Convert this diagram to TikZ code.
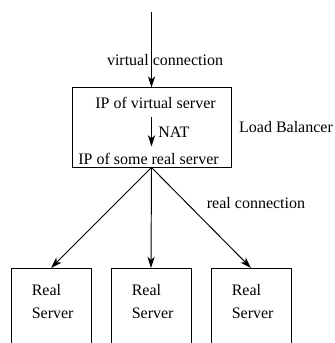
\documentclass[tikz,border=0pt]{standalone}
\usepackage{fontspec}
\setmainfont{Liberation Serif}
\usetikzlibrary{arrows.meta}

\begin{document}
\begin{tikzpicture}[x=0.625pt,y=-0.625pt,line width=0.6pt,
    every node/.style={font=\fontsize{10}{12}\selectfont,inner sep=1pt},
    flecha/.style={-{Stealth[length=7pt,width=4.5pt,inset=2pt]}},
    cajaLB/.style={draw,rectangle,minimum width=99.4pt,minimum height=49.4pt},
    cajaRS/.style={draw,rectangle,anchor=north,minimum width=50pt,minimum height=60pt},
    textoRS/.style={anchor=north west,align=left,font=\fontsize{10}{14.4}\selectfont}]
    \clip (0,0) rectangle (334,343);
    % balanceador
    \node[cajaLB] (lb) at (151.5,127.5) {};
    \node (ipVirtual) at (155.5,103) {IP of virtual server};
    \node (ipReal) at (148.5,159) {IP of some real server};
    \node (lbName) at (286,127) {Load Balancer};
    \draw[flecha] ([yshift=-4pt]lb.center |- ipVirtual.south) -- ([yshift=3pt]lb.center |- ipReal.north)
      node[midway,right,inner sep=4pt] (nat) {NAT};
    % conexion virtual
    \coordinate (entrada) at (151.5,12);
    \draw[flecha] (entrada) -- (lb.north);
    \node (vConn) at (165,60) {virtual connection};
    % servidores reales
    \node[cajaRS] (rs1) at (51,268) {};
    \node[cajaRS] (rs2) at (151,268) {};
    \node[cajaRS] (rs3) at (251,268) {};
    \node[textoRS] (rsText1) at ([xshift=12pt,yshift=-9pt]rs1.north west) {Real\\Server};
    \node[textoRS] (rsText2) at ([xshift=12pt,yshift=-9pt]rs2.north west) {Real\\Server};
    \node[textoRS] (rsText3) at ([xshift=12pt,yshift=-9pt]rs3.north west) {Real\\Server};
    \draw[flecha] (lb.south) -- (rs1.north);
    \draw[flecha] (lb.south) -- (rs2.north);
    \draw[flecha] (lb.south) -- (rs3.north);
    \node (rConn) at (256,203) {real connection};
  \end{tikzpicture}
\end{document}
